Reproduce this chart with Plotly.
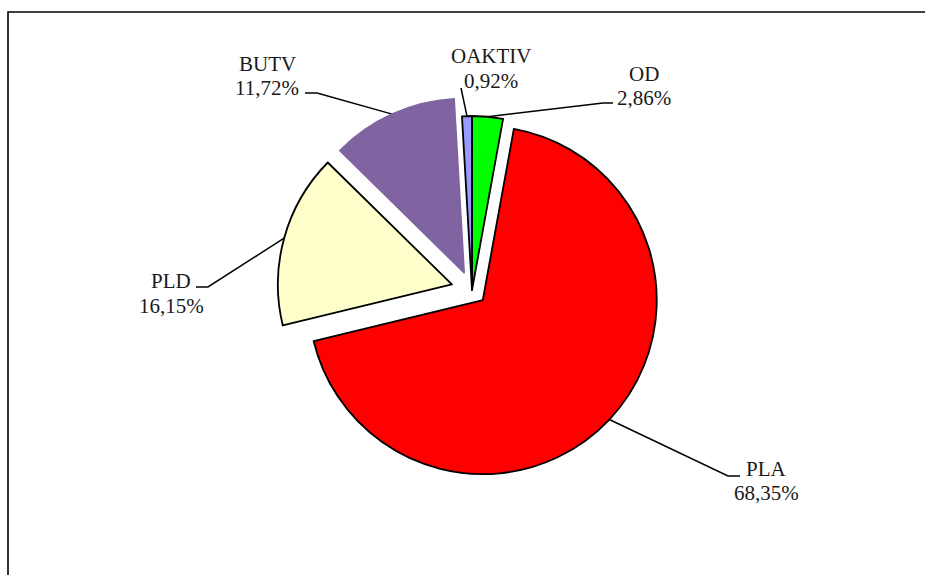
import math
import plotly.graph_objects as go

# Slice data, listed clockwise from 12 o'clock
labels = ["OD", "PLA", "PLD", "BUTV", "OAKTIV"]
values = [2.86, 68.35, 16.15, 11.72, 0.92]
value_text = ["2,86%", "68,35%", "16,15%", "11,72%", "0,92%"]
colors = ["#00FF00", "#FF0000", "#FFFFCC", "#8064A2", "#9999FF"]
edge_colors = ["#000000", "#000000", "#000000", "#8064A2", "#000000"]
pulls = [0.0, 0.085, 0.12, 0.11, 0.0]

# Canvas and pie geometry (pixels)
W, H = 925, 575
CX, CY, R = 472, 290, 174
FONT = "'Liberation Serif', 'Times New Roman', serif"
FS = 21

# Label placement: (x centre, y of first line, y of second line)
label_pos = {
    "OD": (644, 74, 98),
    "PLA": (766, 469, 493),
    "PLD": (171, 281, 306),
    "BUTV": (267, 64, 88),
    "OAKTIV": (491, 56, 81),
}
# Elbow of each leader line: (bend point, end point) or a single end point
leader_end = {
    "OD": [(603, 103), (613, 103)],
    "PLA": [(728, 476), (740, 476)],
    "PLD": [(208, 287), (196, 287)],
    "BUTV": [(317, 93), (305, 93)],
    "OAKTIV": [(461, 88)],
}

max_pull = max(pulls)
box = 2 * R * (1 + max_pull)
domain_x = [(CX - box / 2) / W, (CX + box / 2) / W]
domain_y = [1 - (CY + box / 2) / H, 1 - (CY - box / 2) / H]

fig = go.Figure()
fig.add_trace(go.Pie(
    labels=labels,
    values=values,
    sort=False,
    direction="clockwise",
    rotation=0,
    pull=pulls,
    marker=dict(colors=colors, line=dict(color=edge_colors, width=1.8)),
    textinfo="none",
    hoverinfo="label+percent",
    domain=dict(x=domain_x, y=domain_y),
    showlegend=False,
))

# Leader lines from each slice's outer arc (at its mid-angle) to its label
total = sum(values)
start = 0.0
annotations = []
for lab, val, txt, p in zip(labels, values, value_text, pulls):
    mid = (start + val / 2) / total * 2 * math.pi
    start += val
    ax = CX + R * (1 + p) * math.sin(mid)
    ay = CY - R * (1 + p) * math.cos(mid)
    pts = [(ax, ay)] + leader_end[lab]
    fig.add_trace(go.Scatter(
        x=[q[0] for q in pts], y=[q[1] for q in pts],
        mode="lines", line=dict(color="black", width=1.5),
        hoverinfo="skip", showlegend=False,
    ))
    lx, ly1, ly2 = label_pos[lab]
    for text, ly in ((lab, ly1), (txt, ly2)):
        annotations.append(dict(
            x=lx, y=ly, xref="x", yref="y", text=text, showarrow=False,
            xanchor="center", yanchor="middle",
            font=dict(family=FONT, size=FS, color="#1a1a1a"),
        ))

fig.update_layout(
    width=W, height=H,
    margin=dict(l=0, r=0, t=0, b=0),
    paper_bgcolor="white", plot_bgcolor="rgba(0,0,0,0)",
    xaxis=dict(range=[0, W], visible=False, fixedrange=True),
    yaxis=dict(range=[H, 0], visible=False, fixedrange=True),
    annotations=annotations,
    shapes=[dict(type="rect", xref="x", yref="y", x0=8, y0=12, x1=W + 20, y1=H + 20,
                 line=dict(color="black", width=1.6), layer="below")],
)

fig.write_html("out.html")
